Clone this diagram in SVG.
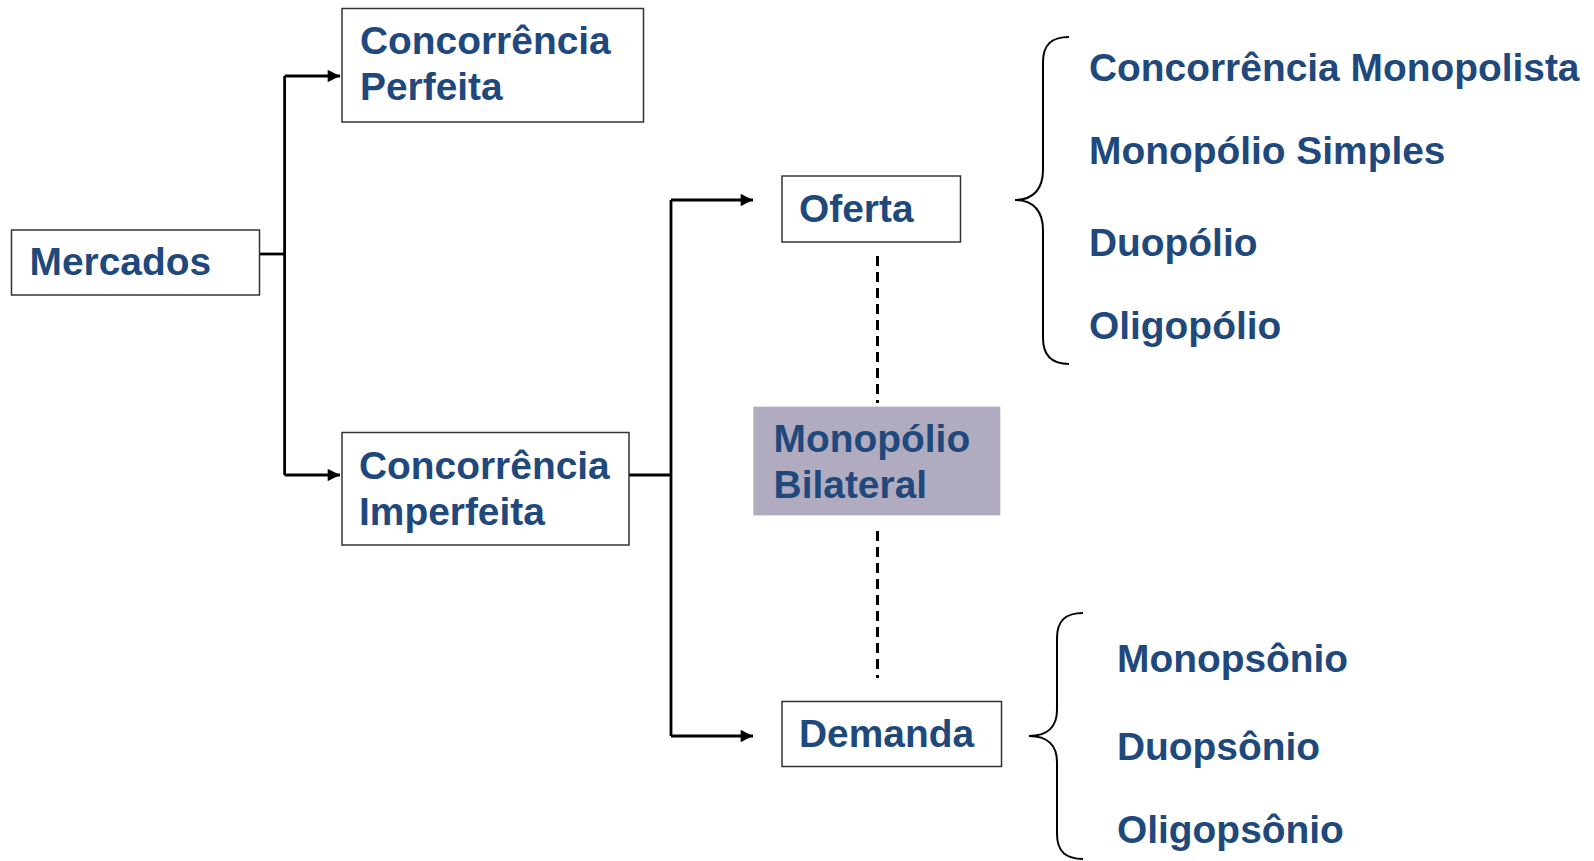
<svg xmlns="http://www.w3.org/2000/svg" width="1594" height="861" viewBox="0 0 1594 861">
<style>
.box{fill:#fff;stroke:#333;stroke-width:1.5}
.t{font-family:"Liberation Sans",Arial,sans-serif;font-weight:bold;font-size:38.9px;fill:#1F497D}
.c{fill:none;stroke:#000;stroke-width:2.8}
.d{fill:none;stroke:#000;stroke-width:3;stroke-dasharray:10,6}
.b{fill:none;stroke:#000;stroke-width:2}
</style>
<defs>
<marker id="ah" viewBox="0 0 10 10" refX="10" refY="5" markerWidth="5" markerHeight="4.4" orient="auto" markerUnits="strokeWidth">
<path d="M0,0 L10,5 L0,10 z" fill="#000"/>
</marker>
</defs>
<rect width="1594" height="861" fill="#fff"/>
<g id="connectors">
<path class="c" d="M259,254 H284.6"/>
<path class="c" d="M284.6,76 V475"/>
<path class="c" d="M284.6,76 H340" marker-end="url(#ah)"/>
<path class="c" d="M284.6,475 H340" marker-end="url(#ah)"/>
<path class="c" d="M629,475 H671"/>
<path class="c" d="M671,200 V736"/>
<path class="c" d="M671,200 H753" marker-end="url(#ah)"/>
<path class="c" d="M671,736 H753" marker-end="url(#ah)"/>
<path class="d" d="M877.5,256 V403"/>
<path class="d" d="M877.5,531 V678"/>
</g>
<g id="mercados">
<rect class="box" x="11.5" y="230" width="248" height="65"/>
<text class="t" x="29.5" y="274.5">Mercados</text>
</g>
<g id="concorrencia-perfeita">
<rect class="box" x="342" y="8.5" width="301.5" height="113.5"/>
<text class="t" x="360" y="54">Concorrência</text>
<text class="t" x="360" y="99.6">Perfeita</text>
</g>
<g id="concorrencia-imperfeita">
<rect class="box" x="342" y="432.5" width="287" height="112.5"/>
<text class="t" x="359" y="478.8">Concorrência</text>
<text class="t" x="359" y="524.6">Imperfeita</text>
</g>
<g id="oferta">
<rect class="box" x="782" y="176" width="178.5" height="66"/>
<text class="t" x="799" y="221.6">Oferta</text>
</g>
<g id="monopolio-bilateral">
<rect x="753.3" y="406.6" width="247" height="108.8" fill="#B0ABBE"/>
<text class="t" x="773.6" y="452.4">Monopólio</text>
<text class="t" x="773.6" y="498">Bilateral</text>
</g>
<g id="demanda">
<rect class="box" x="782" y="701.5" width="219.5" height="65"/>
<text class="t" x="799" y="747">Demanda</text>
</g>
<g id="oferta-tipos">
<path class="b" d="M1069,37 C1052,37 1043,44 1043,62 V170 C1043,188 1034,200 1015,200 C1034,200 1043,212 1043,230 V338 C1043,356 1052,364 1069,364"/>
<text class="t" x="1089" y="81.3">Concorrência Monopolista</text>
<text class="t" x="1089" y="163.7">Monopólio Simples</text>
<text class="t" x="1089" y="256">Duopólio</text>
<text class="t" x="1089" y="338.5">Oligopólio</text>
</g>
<g id="demanda-tipos">
<path class="b" d="M1083,613 C1066,613 1057,620 1057,638 V710 C1057,726 1048,736 1029,736 C1048,736 1057,746 1057,762 V834 C1057,852 1066,859 1083,859"/>
<text class="t" x="1117" y="672">Monopsônio</text>
<text class="t" x="1117" y="760.4">Duopsônio</text>
<text class="t" x="1117" y="842.8">Oligopsônio</text>
</g>
</svg>
